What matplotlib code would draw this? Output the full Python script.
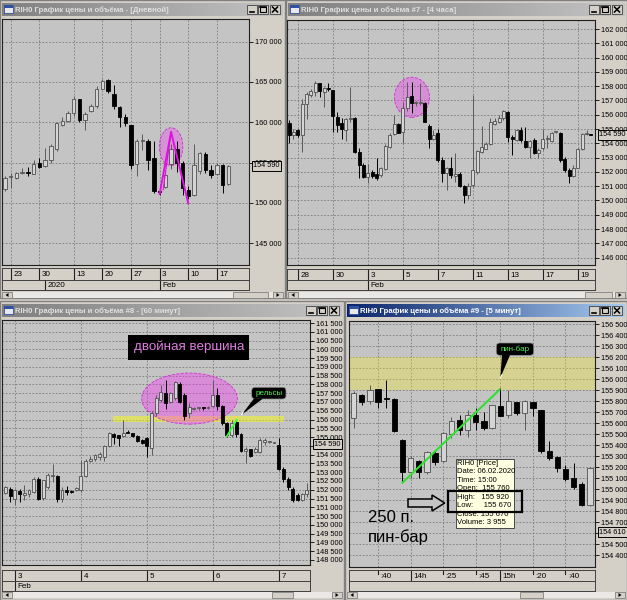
import numpy as np
import matplotlib
matplotlib.use("Agg")
import matplotlib.pyplot as plt
import matplotlib.transforms as mtransforms
from matplotlib.colors import LinearSegmentedColormap
from matplotlib.patches import Rectangle, Ellipse, FancyBboxPatch, Polygon

# ---------------- data ----------------
# daily
day_open = [151670, 153200, 153120, 153750, 153800, 153620, 155000, 154580, 155330, 156670,
            159710, 160120, 161170, 162920, 160330, 161370, 162000, 164170, 165210, 163540,
            161870, 160620, 159710, 154790, 157710, 157710, 155540, 151500, 152000, 154800,
            156700, 154900, 151600, 151000, 153900, 156100, 154100, 153600, 154700, 152300]
day_high = [153330, 153750, 153870, 154370, 154420, 155330, 155620, 156830, 157290, 160000,
            160620, 161460, 163250, 162920, 161250, 162250, 164500, 165420, 165420, 164580,
            162080, 161040, 159710, 157920, 158540, 157920, 157710, 151700, 153700, 157300,
            157700, 155200, 152100, 157300, 156300, 156300, 154700, 154900, 154800, 154700]
day_low = [151460, 151870, 153000, 153540, 153330, 153540, 154370, 154460, 154920, 156460,
           159580, 160000, 160830, 160000, 159080, 161250, 161830, 164080, 163670, 161670,
           159370, 159580, 154250, 153330, 156580, 154080, 151250, 151000, 151800, 154200,
           153800, 151000, 150500, 150800, 153600, 153700, 153100, 153500, 151200, 152200]
day_close = [153120, 153350, 153750, 153870, 153700, 154790, 154500, 155330, 157080, 159920,
             160210, 161120, 162830, 160330, 161040, 162080, 164170, 165120, 163830, 162080,
             160620, 159920, 154670, 157620, 157750, 155330, 151460, 151300, 153400, 156700,
             154900, 151800, 150900, 154700, 156200, 154100, 153400, 154700, 152200, 154600]
day_tick_idx = [1, 6, 12, 17, 22, 27, 32, 37]
day_tick_lbl = ["23", "30", "13", "20", "27", "3", "10", "17"]
day_month_idx = [7, 27]
day_month_lbl = ["2020", "Feb"]

# 4 hours
h4_open = [155400, 154570, 154900, 154570, 156720, 157370, 157600, 158230, 157600, 157800,
           157700, 155850, 155400, 154920, 155670, 155740, 153360, 152470, 151650, 151960,
           151880, 151770, 152190, 153750, 154620, 155320, 154800, 156440, 157300, 156790,
           156800, 156830, 155220, 154290, 154690, 152820, 151890, 152280, 151720, 151820,
           151020, 150370, 151070, 152000, 153400, 153630, 153940, 155320, 155500, 155740,
           156160, 154460, 154220, 154920, 154150, 153750, 154220, 153290, 153640, 154270,
           154150, 154800, 154730, 152890, 152120, 151720, 152280, 153590, 154620, 154600]
h4_high = [155600, 155000, 155030, 157070, 157600, 157770, 158350, 158230, 157950, 158190,
           157750, 156200, 155740, 155740, 157950, 155850, 153640, 152590, 152520, 152100,
           152980, 152350, 153920, 154690, 155970, 155390, 156900, 158300, 158300, 156950,
           158200, 156900, 155320, 154950, 155030, 153050, 152360, 153050, 153330, 151960,
           151070, 151190, 157400, 153520, 155200, 154100, 155740, 155740, 155970, 156320,
           156250, 154570, 155030, 155150, 155150, 154220, 154340, 153640, 154970, 154570,
           154800, 154870, 154800, 153050, 152240, 152470, 153640, 154690, 154920, 154620]
h4_low = [154000, 154300, 154450, 153400, 155690, 157230, 157300, 157250, 156550, 157650,
          154800, 154800, 154300, 154150, 155500, 153350, 151540, 151540, 151190, 151600,
          151420, 151650, 152120, 153680, 154570, 154690, 153990, 156270, 156090, 156600,
          156700, 155460, 153640, 154200, 152700, 151300, 150720, 151540, 151300, 150930,
          149790, 150090, 150960, 151820, 153290, 153590, 153870, 155270, 155390, 155620,
          154060, 153170, 154150, 154100, 153640, 152940, 153220, 152940, 153520, 153640,
          154100, 154730, 152700, 152000, 151190, 151650, 152240, 153540, 154570, 154570]
h4_close = [154600, 154800, 154570, 156720, 157420, 157650, 158230, 157650, 157840, 157790,
            155900, 155300, 154970, 155670, 155740, 153400, 152470, 151650, 151890, 151700,
            151600, 152240, 153820, 154610, 155320, 154730, 156440, 157250, 156790, 156800,
            156850, 155500, 154290, 154600, 152820, 151890, 152240, 151770, 151820, 151020,
            150370, 151020, 152120, 153450, 153750, 153940, 155500, 155550, 155780, 156250,
            154460, 154290, 154920, 154220, 153750, 154150, 153290, 153520, 154270, 154390,
            154730, 154830, 152820, 152120, 151720, 152280, 153590, 154620, 154690, 154590]
h4_tick_idx = [2, 10, 18, 26, 34, 42, 50, 58, 66]
h4_tick_lbl = ["28", "30", "3", "5", "7", "11", "13", "17", "19"]
h4_month_idx = [18]
h4_month_lbl = ["Feb"]

# 60 minutes
h1_open = [151820, 152070, 151500, 151940, 151690, 151750, 151880, 152640, 151540, 152160,
           152770, 152770, 151500, 152000, 151940, 151980, 151980, 152770, 153650, 153730,
           153840, 153840, 154480, 155170, 155100, 155060, 155300, 155210, 155060, 154860,
           154920, 154400, 156350, 157100, 157490, 157010, 157200, 158050, 157400, 156350,
           156620, 156640, 156650, 156660, 156770, 157400, 156770, 155780, 155110, 155880,
           155170, 154220, 154300, 154160, 154160, 154730, 154730, 154680, 154540, 153210,
           152640, 152070, 151690, 151410, 151750]
h1_high = [152200, 152130, 152070, 152070, 152260, 152070, 152700, 152700, 152560, 152930,
           153440, 152830, 152130, 152200, 151990, 152130, 153690, 153780, 153910, 154060,
           154160, 154540, 155300, 155250, 155110, 155970, 155400, 155250, 155110, 154900,
           155020, 156500, 157400, 157960, 158270, 157580, 158210, 158150, 157500, 156920,
           156730, 156720, 156730, 156760, 158250, 157770, 156820, 155870, 155970, 155970,
           155210, 154410, 154350, 154450, 154920, 154920, 154800, 154730, 154920, 153310,
           152740, 152170, 151790, 151820, 152360]
h1_low = [151750, 151310, 151120, 151310, 151400, 151600, 151820, 151400, 151400, 152070,
          152450, 151310, 151310, 151700, 151820, 151940, 151880, 152740, 153590, 153650,
          153690, 153650, 154410, 154600, 154480, 155020, 155210, 154980, 154730, 154600,
          153840, 153970, 156200, 157010, 156580, 156920, 157100, 156950, 156000, 156060,
          156540, 156560, 156570, 156600, 156720, 156540, 155680, 155020, 155020, 155020,
          154160, 153500, 153840, 154070, 154100, 154540, 154680, 154650, 153120, 152450,
          151980, 151310, 151360, 151360, 151600]
h1_close = [152130, 151630, 151980, 151750, 151790, 151980, 152640, 151500, 152550, 152830,
            152830, 151500, 152010, 151880, 151880, 152080, 152770, 153650, 153780, 153970,
            154030, 154480, 155210, 154980, 154920, 155210, 155210, 155060, 154790, 154680,
            154480, 156350, 157200, 157580, 156920, 157490, 158150, 157010, 156200, 156730,
            156640, 156650, 156640, 156700, 157400, 156770, 155780, 155110, 155780, 155170,
            154220, 154300, 153910, 154350, 154830, 154830, 154740, 154700, 153210, 152640,
            152130, 151440, 151410, 151750, 152010]
h1_tick_idx = [2, 16, 30, 44, 58]
h1_tick_lbl = ["3", "4", "5", "6", "7"]
h1_month_idx = [2]
h1_month_lbl = ["Feb"]

# 5 minutes
m5_open = [155645, 155855, 155800, 155910, 155830, 155820, 155450, 155160, 155260, 155160,
           155330, 155260, 155500, 155630, 155540, 155675, 155620, 155560, 155760, 155675,
           155790, 155690, 155790, 155720, 155350, 155290, 155185, 155105, 155045, 154855]
m5_high = [155890, 155870, 155950, 155910, 155995, 155830, 155455, 155300, 155270, 155350,
           155345, 155520, 155660, 155675, 155720, 155735, 155705, 155770, 155920, 155900,
           155795, 155810, 155795, 155720, 155435, 155300, 155220, 155235, 155065, 155200]
m5_low = [155555, 155765, 155780, 155735, 155740, 155520, 155070, 155100, 155100, 155140,
          155220, 155245, 155465, 155495, 155480, 155540, 155540, 155545, 155670, 155645,
          155680, 155540, 155670, 155330, 155270, 155160, 155075, 155005, 154845, 154845]
m5_close = [155880, 155790, 155900, 155790, 155820, 155530, 155160, 155285, 155160, 155335,
            155245, 155510, 155625, 155540, 155680, 155615, 155560, 155765, 155670, 155800,
            155690, 155800, 155735, 155350, 155285, 155190, 155095, 155025, 154855, 155190]
m5_tick_idx = [3, 7, 11, 15, 18, 22, 26]
m5_tick_lbl = [":40", "14h", ":25", ":45", "15h", ":20", ":40"]

tooltip_lines = ["RIH0 [Price]", "Date: 06.02.2020", "Time: 15:00", "Open:  155 760",
                 "High:   155 920", "Low:     155 670", "Close: 155 670", "Volume: 3 955"]

# ---------------- style ----------------
plt.rcParams['font.family'] = ['Liberation Sans', 'DejaVu Sans']
W, H = 627, 600
WIN = '#d4d0c8'
PLOT_BG = '#c4c4c4'
GRID = '#7a7a7a'
FS = 5.3

fig = plt.figure(figsize=(W / 100, H / 100), dpi=100)
fig.patch.set_facecolor(WIN)


def frac(x0, y0, x1, y1):
    return [x0 / W, 1 - y1 / H, (x1 - x0) / W, (y1 - y0) / H]


def pixel_axes(z):
    a = fig.add_axes([0, 0, 1, 1], zorder=z)
    a.set_autoscale_on(False)
    a.set_xlim(0, W)
    a.set_ylim(H, 0)
    a.axis('off')
    a.patch.set_alpha(0)
    return a


bg = pixel_axes(0)
top = pixel_axes(10)


def fmt(v):
    return f"{v:,}".replace(",", " ")


def window(x0, y0, x1, y1, title, active):
    bg.add_patch(Rectangle((x0, y0), x1 - x0, y1 - y0, fc=WIN, ec='#808080', lw=1))
    c0, c1 = ('#0a246a', '#a6caf0') if active else ('#808080', '#c4c4c4')
    cmap = LinearSegmentedColormap.from_list('tb', [c0, c1])
    grad = np.linspace(0, 1, 256)[None, :]
    bg.imshow(grad, extent=(x0 + 2, x1 - 2, y0 + 16, y0 + 3), cmap=cmap, aspect='auto', zorder=1)
    # icon
    bg.add_patch(Rectangle((x0 + 4, y0 + 5), 9, 8, fc='#e8e8e8', ec='#3050a0', lw=0.6, zorder=2))
    bg.add_patch(Rectangle((x0 + 4, y0 + 5), 9, 2.5, fc='#3050a0', ec='none', zorder=2))
    bg.text(x0 + 15, y0 + 9.8, title, color='white' if active else '#e0e0e0',
            fontsize=5.6, fontweight='bold', va='center', ha='left', zorder=3)
    # caption buttons
    for k, kind in enumerate(['min', 'max', 'close']):
        bx = x1 - 38 + k * 11 + (1 if kind == 'close' else 0)
        bg.add_patch(Rectangle((bx, y0 + 5), 10, 9, fc=WIN, ec='#404040', lw=0.6, zorder=2))
        if kind == 'min':
            bg.plot([bx + 2.5, bx + 6.5], [y0 + 11.8, y0 + 11.8], color='black', lw=1.2, zorder=3)
        elif kind == 'max':
            bg.add_patch(Rectangle((bx + 2, y0 + 6.8), 6, 5.5, fc='none', ec='black', lw=0.8, zorder=3))
            bg.plot([bx + 2, bx + 8], [y0 + 7.2, y0 + 7.2], color='black', lw=1.2, zorder=3)
        else:
            bg.plot([bx + 2.5, bx + 7.5], [y0 + 7, y0 + 12], color='black', lw=1.1, zorder=3)
            bg.plot([bx + 2.5, bx + 7.5], [y0 + 12, y0 + 7], color='black', lw=1.1, zorder=3)


def scrollbar(x0, x1, y0, y1, t0, t1):
    bg.add_patch(Rectangle((x0, y0), x1 - x0, y1 - y0, fc='#eae8e4', ec='none', zorder=1))
    for bx, d in ((x0, -1), (x1 - 10, 1), (t0, 0)):
        w = 10 if d else t1 - t0
        bg.add_patch(Rectangle((bx, y0), w, y1 - y0, fc=WIN, ec='#808080', lw=0.6, zorder=2))
        if d:
            cx, cy = bx + 5, (y0 + y1) / 2
            bg.add_patch(Polygon([(cx - 1.5 * d, cy - 2), (cx - 1.5 * d, cy + 2), (cx + 1.5 * d, cy)],
                                 fc='black', ec='none', zorder=3))


def chart(rect, o, h, l, c, xlim, ylim, yticks, xgrid, width, min_h, last):
    ax = fig.add_axes(frac(*rect), zorder=2)
    ax.set_facecolor(PLOT_BG)
    ax.set_xlim(xlim)
    ax.set_ylim(ylim)
    ax.yaxis.tick_right()
    ax.set_yticks(yticks)
    ax.set_yticklabels([fmt(v) for v in yticks])
    ax.set_xticks(xgrid)
    ax.tick_params(axis='x', length=0, labelbottom=False)
    ax.tick_params(axis='y', length=3, width=0.6, pad=1, labelsize=FS, colors='black')
    ax.grid(True, color=GRID, lw=0.6, ls=(0, (2, 2)))
    for s in ax.spines.values():
        s.set_color('#202020')
        s.set_linewidth(0.8)

    o, h, l, c = (np.asarray(a, float) for a in (o, h, l, c))
    x = np.arange(len(o))
    up = c >= o
    ax.vlines(x[up], l[up], h[up], color='#5a5a5a', lw=0.7, zorder=3)
    ax.vlines(x[~up], l[~up], h[~up], color='black', lw=0.7, zorder=3)
    bottom = np.minimum(o, c)
    height = np.maximum(np.abs(c - o), min_h)
    ax.bar(x[up], height[up], width, bottom[up], color='#d4d4d4', edgecolor='#505050', lw=0.6, zorder=4)
    ax.bar(x[~up], height[~up], width, bottom[~up], color='black', edgecolor='black', lw=0.6, zorder=4)

    tr = mtransforms.blended_transform_factory(ax.transAxes, ax.transData)
    tr = mtransforms.offset_copy(tr, fig=fig, x=4, y=0, units='dots')
    ax.text(1.0, last, fmt(last), transform=tr, ha='left', va='center', fontsize=FS, clip_on=False,
            zorder=6, bbox=dict(boxstyle='square,pad=0.2', fc=WIN, ec='black', lw=0.7))
    return ax


def row(x0, x1, y0, y1, xlim, idx, labels, hours_only=False):
    r = fig.add_axes(frac(x0, y0, x1, y1), zorder=2)
    r.set_xlim(xlim)
    r.set_ylim(0, 1)
    r.set_facecolor(WIN)
    r.set_xticks([])
    r.set_yticks([])
    for s in r.spines.values():
        s.set_color('#404040')
        s.set_linewidth(0.7)
    tr = mtransforms.blended_transform_factory(r.transData, r.transAxes)
    tr_lbl = mtransforms.offset_copy(tr, fig=fig, x=2.5, y=0, units='dots')
    for t, lab in zip(idx, labels):
        full = (not hours_only) or lab.endswith('h')
        r.plot([t, t], [0 if full else 0.6, 1], transform=tr, color='#202020', lw=0.8)
        r.text(t, 0.45, lab, transform=tr_lbl, ha='left', va='center', fontsize=5.8)
    return r


# ---------------- windows ----------------
window(0, 0, 285, 298, "RIH0 График цены и объёма - [Дневной]", False)
window(286, 0, 627, 298, "RIH0 График цены и объёма #7 - [4 часа]", False)
window(0, 301, 344, 600, "RIH0 График цены и объёма #8 - [60 минут]", False)
window(345, 301, 627, 600, "RIH0 График цены и объёма #9 - [5 минут]", True)

scrollbar(2, 283, 292, 298, 233, 268)
scrollbar(288, 625, 292, 298, 585, 612)
scrollbar(2, 342, 592, 598, 272, 293)
scrollbar(347, 625, 592, 598, 520, 543)

# ---------------- panel 1: daily ----------------
xl1 = (-0.52, 42.6)
ax1 = chart((2, 19, 249, 265), day_open, day_high, day_low, day_close, xl1, (142295, 172816),
            list(range(145000, 170001, 5000)), day_tick_idx, 0.6, 124, 154590)
row(2, 249, 268, 280, xl1, day_tick_idx, day_tick_lbl)
row(2, 249, 280, 290, xl1, day_month_idx, day_month_lbl)
ax1.add_patch(Ellipse((29.0, 156970), 4.1, 4700, fc=(1, 0.1, 1, 0.28), ec='#d030d0',
                      lw=0.6, ls='--', zorder=2))
ax1.plot([27, 29, 32], [151100, 158800, 149950], color='#e010e0', lw=1.4, zorder=5)
ax1.plot([27.6, 29], [151600, 158800], color='#e010e0', lw=0.8, zorder=5)

# ---------------- panel 2: 4 hours ----------------
xl2 = (-0.46, 69.94)
ax2 = chart((287, 20, 595, 265), h4_open, h4_high, h4_low, h4_close, xl2, (145485, 162630),
            list(range(146000, 162001, 1000)), h4_tick_idx, 0.68, 70, 154590)
row(287, 595, 269, 280, xl2, h4_tick_idx, h4_tick_lbl)
row(287, 595, 280, 290, xl2, h4_month_idx, h4_month_lbl)
ax2.add_patch(Ellipse((28.1, 157220), 8.0, 2800, fc=(1, 0.1, 1, 0.3), ec='#d030d0',
                      lw=0.6, ls='--', zorder=2))

# ---------------- panel 3: 60 minutes ----------------
xl3 = (-0.74, 64.65)
ax3 = chart((2, 320, 310, 565), h1_open, h1_high, h1_low, h1_close, xl3, (147713, 161671),
            list(range(148000, 161501, 500)), h1_tick_idx, 0.62, 57, 154590)
row(2, 310, 570, 581, xl3, h1_tick_idx, h1_tick_lbl)
row(2, 310, 581, 591, xl3, h1_month_idx, h1_month_lbl)
ax3.add_patch(Rectangle((22.8, 155850), 36.3, 330, fc=(1, 1, 0, 0.45), ec='none', zorder=2))
ax3.add_patch(Ellipse((39.07, 157193), 20.3, 2909, fc=(1, 0.15, 1, 0.35), ec='#d030d0',
                      lw=0.6, ls='--', zorder=2))
ax3.plot([47, 49.1], [155050, 155980], color='#30ff30', lw=1.3, zorder=5)

top.add_patch(Rectangle((128.3, 335.3), 121, 24.4, fc='black', ec='none'))
top.text(188.8, 347.2, "двойная вершина", color='#e07ce0', fontsize=9.6, ha='center', va='center')


def bubble(x0, y0, x1, y1, base, tip, text):
    top.add_patch(FancyBboxPatch((x0, y0), x1 - x0, y1 - y0,
                                 boxstyle='round,pad=0,rounding_size=3.5',
                                 fc='black', ec='#909090', lw=0.5))
    top.add_patch(Polygon([base[0], base[1], tip], closed=True, fc='black', ec='none'))
    top.plot([tip[0], tip[0] + 1.5], [tip[1], tip[1] - 3], color='white', lw=0.8)
    top.text((x0 + x1) / 2, (y0 + y1) / 2 + 0.3, text, color='#50f050', fontsize=5.8,
             ha='center', va='center')


bubble(251.7, 387.3, 286, 399, [(254, 398.5), (263, 398.5)], (241.7, 414.7), "рельсы")

# ---------------- panel 4: 5 minutes ----------------
xl4 = (-0.56, 29.62)
ax4 = chart((349, 321, 595, 567), m5_open, m5_high, m5_low, m5_close, xl4, (154294, 156530),
            list(range(154400, 156501, 100)), m5_tick_idx, 0.65, 9, 154610)
row(349, 595, 570, 581, xl4, m5_tick_idx, m5_tick_lbl, hours_only=True)
row(349, 595, 581, 591, xl4, [], [])
ax4.axhspan(155900, 156200, fc=(1, 0.95, 0.1, 0.3), ec='none', zorder=2)
ax4.plot([6, 17.9], [155060, 155905], color='#30e030', lw=1.5, zorder=5)

bubble(496.3, 343, 533.7, 355.3, [(502, 355), (510, 355)], (500.3, 378), "пин-бар")

# tooltip
top.add_patch(Rectangle((455.5, 459), 58.5, 69.3, fc='#ffffe1', ec='#303030', lw=0.6))
for k, line in enumerate(tooltip_lines):
    top.text(457, 463.3 + k * 8.45, line, fontsize=5.5, ha='left', va='center', color='black')
top.add_patch(Rectangle((448.3, 491.3), 74, 20.2, fc='none', ec='black', lw=1.6))
top.add_patch(Polygon([(408, 499), (432, 499), (432, 495), (444.7, 503), (432, 511),
                       (432, 507), (408, 507)], closed=True, fc=PLOT_BG, ec='black', lw=1.1))
top.text(368, 517, "250 п.", fontsize=12, ha='left', va='center', color='black')
top.text(368, 537, "пин-бар", fontsize=12, ha='left', va='center', color='black')

fig.savefig("out.png", dpi=100, facecolor=WIN)
